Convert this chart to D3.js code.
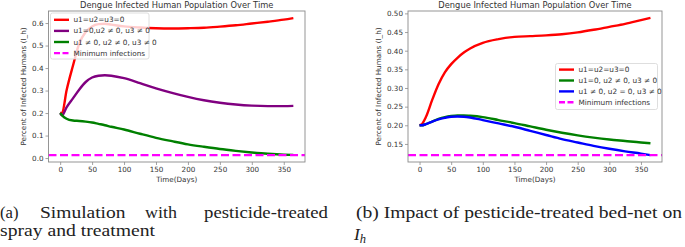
<!DOCTYPE html>
<html><head><meta charset="utf-8">
<script src="https://cdn.jsdelivr.net/npm/d3@7"></script>
<style>body{margin:0;background:#fff}svg{display:block}</style>
</head><body>
<svg id="c" width="685" height="247"></svg>
<script>
const days = [0,3,10,20,30,40,50,60,70,80,100,125,150,175,200,225,250,275,300,325,350,365];
// Panel (a)
const aNone   = [0.2,0.2,0.3,0.41,0.51,0.56,0.585,0.595,0.597,0.593,0.585,0.58,0.577,0.576,0.577,0.579,0.584,0.59,0.598,0.606,0.615,0.622];
const aU23    = [0.2,0.19,0.225,0.265,0.305,0.338,0.358,0.366,0.368,0.366,0.355,0.333,0.31,0.29,0.272,0.257,0.246,0.238,0.233,0.231,0.231,0.232];
const aAll    = [0.2,0.19,0.175,0.167,0.165,0.162,0.158,0.152,0.146,0.139,0.127,0.108,0.09,0.075,0.061,0.05,0.04,0.032,0.025,0.019,0.015,0.014];
const aMin    = 0.013;
// Panel (b)
const bNone   = [0.2,0.202,0.222,0.268,0.31,0.342,0.364,0.381,0.395,0.406,0.421,0.431,0.437,0.439,0.441,0.444,0.449,0.456,0.464,0.472,0.482,0.488];
const bU23    = [0.2,0.2,0.203,0.21,0.217,0.222,0.225,0.2265,0.2265,0.2255,0.222,0.214,0.206,0.197,0.188,0.18,0.173,0.167,0.162,0.158,0.154,0.152];
const bU13    = [0.2,0.2,0.203,0.21,0.216,0.22,0.223,0.2235,0.223,0.221,0.214,0.205,0.196,0.185,0.174,0.163,0.154,0.145,0.137,0.13,0.124,0.12];
const bMin    = 0.12;
const xTicks  = [0,50,100,150,200,250,300,350];
const aYTicks = [0.0,0.1,0.2,0.3,0.4,0.5,0.6];
const bYTicks = [0.15,0.20,0.25,0.30,0.35,0.40,0.45,0.50];
const aLabels = ["u1=u2=u3=0"," u1=0,u2 \u2260 0, u3 \u2260 0","u1 \u2260 0, u2 \u2260 0, u3 \u2260 0","Minimum infections"];
const bLabels = ["u1=u2=u3=0","u1=0, u2 \u2260 0, u3 \u2260 0","u1 \u2260 0, u2 = 0, u3 \u2260 0","Minimum infections"];
const title = "Dengue Infected Human Population Over Time";
const xLabel = "Time(Days)";
const yLabel = "Percent of Infected Humans (I_h)";

const svg = d3.select("#c");
svg.append("rect").attr("width",685).attr("height",247).attr("fill","#fff");
const SANS = "DejaVu Sans";

function panel(opt){
  const g = svg.append("g");
  const x = d3.scaleLinear().domain([-18.25,383.25]).range([opt.x0,opt.x1]);
  const y = d3.scaleLinear().domain(opt.ydom).range([162,11]);
  const line = d3.line().x((d,i)=>x(days[i])).y(d=>y(d)).curve(d3.curveMonotoneX);
  const clipId = "clip"+opt.id;
  g.append("clipPath").attr("id",clipId).append("rect")
    .attr("x",opt.x0).attr("y",11).attr("width",opt.x1-opt.x0).attr("height",151);
  const pg = g.append("g").attr("clip-path",`url(#${clipId})`);
  opt.series.forEach(s=>{
    pg.append("path").datum(s.v).attr("d",line).attr("fill","none")
      .attr("stroke",s.c).attr("stroke-width",2.4).attr("stroke-linejoin","round");
  });
  pg.append("line").attr("x1",opt.x0).attr("x2",opt.x1)
    .attr("y1",y(opt.min)).attr("y2",y(opt.min))
    .attr("stroke","#ff00ff").attr("stroke-width",2.4).attr("stroke-dasharray","8,3.5");
  // frame
  g.append("rect").attr("x",opt.x0).attr("y",11).attr("width",opt.x1-opt.x0).attr("height",151)
    .attr("fill","none").attr("stroke","#8a8a8a").attr("stroke-width",0.9);
  const xa = g.append("g").attr("transform","translate(0,162)")
    .call(d3.axisBottom(x).tickValues(xTicks).tickSize(3).tickPadding(2).tickFormat(d3.format("d")));
  const ya = g.append("g").attr("transform",`translate(${opt.x0},0)`)
    .call(d3.axisLeft(y).tickValues(opt.yticks).tickSize(3).tickPadding(2).tickFormat(d3.format(opt.yfmt)));
  [xa,ya].forEach(a=>{
    a.select(".domain").remove();
    a.selectAll("line").attr("stroke","#8a8a8a").attr("stroke-width",0.8);
    a.selectAll("text").attr("fill","#333").style("font-family",SANS).style("font-size","7.2px");
  });
  g.append("text").attr("x",(opt.x0+opt.x1)/2).attr("y",8)
    .attr("text-anchor","middle").attr("fill","#333")
    .style("font-family",SANS).style("font-size","8.3px").text(title);
  g.append("text").attr("x",(opt.x0+opt.x1)/2).attr("y",182)
    .attr("text-anchor","middle").attr("fill","#333")
    .style("font-family",SANS).style("font-size","7.2px").text(xLabel);
  g.append("text").attr("transform",`translate(${opt.ylx},86.5) rotate(-90)`)
    .attr("text-anchor","middle").attr("fill","#333")
    .style("font-family",SANS).style("font-size","7.2px").text(yLabel);
  // legend
  const L = opt.leg;
  const lg = g.append("g");
  lg.append("rect").attr("x",L.x).attr("y",L.y).attr("width",L.w).attr("height",L.h)
    .attr("rx",2).attr("fill","#fff").attr("fill-opacity",0.8)
    .attr("stroke","#d6d6d6").attr("stroke-width",0.8);
  const cols = opt.series.map(s=>s.c).concat(["#ff00ff"]);
  opt.labels.forEach((t,i)=>{
    const yy = L.y0 + i*L.dy;
    lg.append("line").attr("x1",L.x+3.5).attr("x2",L.x+18.5).attr("y1",yy).attr("y2",yy)
      .attr("stroke",cols[i]).attr("stroke-width",2.4)
      .attr("stroke-dasharray", i===3 ? "6,2.5" : null);
    lg.append("text").attr("x",L.x+23).attr("y",yy+2.5).attr("fill","#333")
      .style("font-family",SANS).style("font-size","7.3px").text(t);
  });
}

panel({id:"a",x0:48.5,x1:305,ydom:[-0.0175,0.6535],yticks:aYTicks,yfmt:".1f",min:aMin,ylx:26,
  series:[{v:aNone,c:"#ff0000"},{v:aU23,c:"#800080"},{v:aAll,c:"#008000"}],labels:aLabels,
  leg:{x:50.5,y:13,w:98.5,h:46,y0:19.8,dy:11.1}});
panel({id:"b",x0:408,x1:662,ydom:[0.1016,0.5064],yticks:bYTicks,yfmt:".2f",min:bMin,ylx:381,
  series:[{v:bNone,c:"#ff0000"},{v:bU23,c:"#008000"},{v:bU13,c:"#0000ff"}],labels:bLabels,
  leg:{x:555.5,y:63.5,w:102,h:46,y0:69.6,dy:10.9}});

// captions
const SERIF = "'Liberation Serif','Times New Roman',serif";
function cap(txt,x,y,len,anchor,italic){
  const t = svg.append("text").attr("x",x).attr("y",y).attr("fill","#222")
    .attr("text-anchor",anchor||"start")
    .style("font-family",SERIF).style("font-size","17.5px").text(txt);
  if(len) t.attr("textLength",len).attr("lengthAdjust","spacingAndGlyphs");
  if(italic) t.style("font-style","italic");
  return t;
}
cap("(a)",0,218,18.5);
cap("Simulation",40,218,85.5);
cap("with",145,218,32);
cap("pesticide-treated",328,218,null,"end").attr("textLength",124).attr("lengthAdjust","spacingAndGlyphs");
cap("spray and treatment",0,236,155);
cap("(b) Impact of pesticide-treated bed-net on",356,218,326);
const ih = svg.append("text").attr("x",354).attr("y",240).attr("fill","#222")
  .style("font-family",SERIF).style("font-size","17.5px").style("font-style","italic");
ih.append("tspan").text("I");
ih.append("tspan").attr("dy",3).style("font-size","12.5px").text("h");
</script>
</body></html>
